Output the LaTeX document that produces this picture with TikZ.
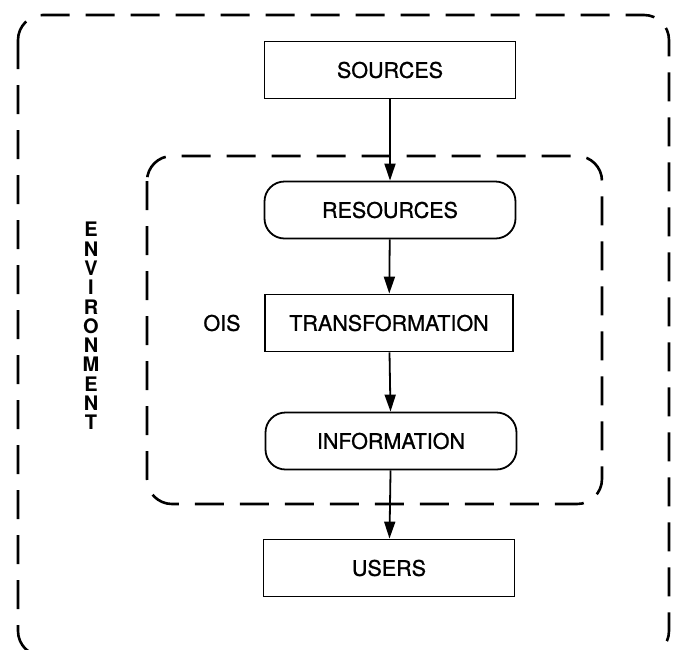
\documentclass[tikz,border=0pt]{standalone}
\usepackage{fontspec}
\setmainfont{TeX Gyre Heros}
\newfontface\labelfont{TeX Gyre Heros}[FakeBold=1]
\usetikzlibrary{arrows.meta}
\begin{document}
\begin{tikzpicture}[x=1pt, y=-1pt, >={Triangle[length=17pt,width=11pt]},
    box/.style={draw, line width=1.8pt, minimum width=251pt, minimum height=57pt,
        inner sep=0pt, font=\labelfont\fontsize{21.5}{24}\selectfont},
    rbox/.style={box, rounded corners=20pt},
    frame/.style={line width=2.6pt, dash pattern=on 29pt off 16pt, rounded corners=25pt},
    flow/.style={->, line width=1.8pt}]
    \useasboundingbox (0,0) rectangle (675,649);
    \clip (0,0) rectangle (675,649);

    % environment and OIS borders
    \draw[frame] (18,15) rectangle (669,656);
    \draw[frame] (147,156) rectangle (602,504);

    \node[box] (sources) at (390,70) {SOURCES};
    \node[rbox] (resources) at (390,210) {RESOURCES};
    \node[box, minimum width=248pt] (transf) at (389,323) {TRANSFORMATION};
    \node[rbox] (information) at (391,441) {INFORMATION};
    \node[box] (users) at (389,568) {USERS};

    \node[font=\labelfont\fontsize{21.5}{24}\selectfont] (ois) at (222,323) {OIS};
    \node[font=\bfseries\fontsize{20}{19.3}\selectfont, align=center] (env) at (91,326)
        {E\\N\\V\\I\\R\\O\\N\\M\\E\\N\\T};

    \draw[flow] (sources) -- (resources);
    \draw[flow] (resources) -- (transf);
    \draw[flow] (transf) -- (information);
    \draw[flow] (information) -- (users);
\end{tikzpicture}
\end{document}
